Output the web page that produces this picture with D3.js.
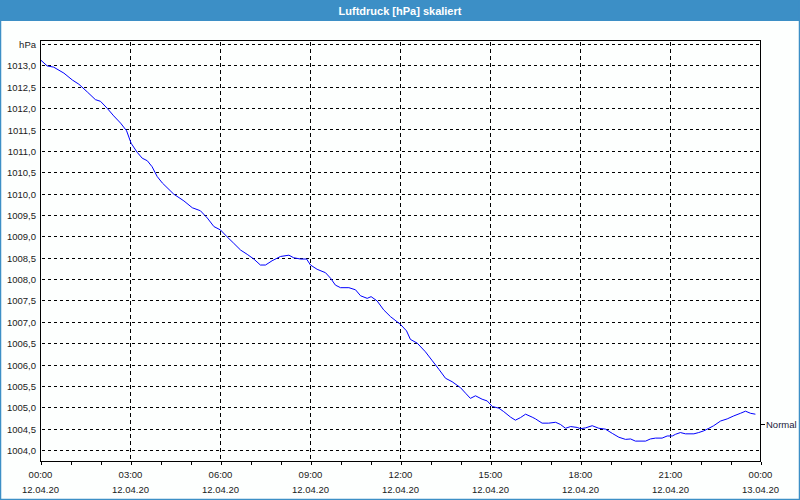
<!DOCTYPE html>
<html>
<head>
<meta charset="utf-8">
<script src="https://cdn.jsdelivr.net/npm/d3@7"></script>
<style>
  html, body { margin: 0; padding: 0; background: #ffffff; }
  svg { display: block; }
  text { font-family: "Liberation Sans", Arial, sans-serif; }
</style>
</head>
<body>
<svg id="chart" width="800" height="500"></svg>
<script>
// ---------- data ----------
const title = "Luftdruck [hPa] skaliert";
const unitLabel = "hPa";
const refLabel = "Normal";
const refValue = 1004.61;

// hours since 12.04.20 00:00
const hours = [
  0, 0.22, 0.44, 0.78, 1.06, 1.28, 1.56, 1.83, 2.0, 2.22, 2.44, 2.67, 2.87, 3.02, 3.22, 3.39, 3.56, 3.72, 3.89, 4.06,
  4.44, 4.78, 5.06, 5.33, 5.56, 5.78, 6.0, 6.22, 6.44, 6.67, 6.89, 7.11, 7.33, 7.5, 7.72, 8.0, 8.28, 8.44, 8.67, 8.87,
  9.0, 9.22, 9.5, 9.67, 9.83, 10.0, 10.28, 10.5, 10.67, 10.89, 11.02, 11.22, 11.44, 11.67, 12.0, 12.2, 12.33, 12.56, 12.83, 13.06,
  13.28, 13.5, 13.72, 14.0, 14.17, 14.33, 14.5, 14.72, 14.89, 15.06, 15.28, 15.44, 15.67, 15.83, 16.0, 16.17, 16.39, 16.5, 16.72, 16.94,
  17.17, 17.33, 17.5, 17.67, 17.89, 18.0, 18.17, 18.39, 18.61, 18.83, 19.06, 19.28, 19.5, 19.67, 19.83, 20.17, 20.33, 20.5, 20.72, 20.89,
  21.06, 21.17, 21.33, 21.5, 21.78, 21.94, 22.11, 22.28, 22.44, 22.67, 22.89, 23.11, 23.33, 23.5, 23.67, 23.83
];
const pressure = [
  1013.14, 1013.00, 1012.97, 1012.83, 1012.67, 1012.57, 1012.39, 1012.21, 1012.17, 1012.01, 1011.83, 1011.66, 1011.48, 1011.19, 1010.98, 1010.84, 1010.78, 1010.64, 1010.41, 1010.26,
  1010.00, 1009.84, 1009.68, 1009.61, 1009.44, 1009.24, 1009.16, 1009.00, 1008.85, 1008.69, 1008.59, 1008.48, 1008.34, 1008.34, 1008.44, 1008.54, 1008.57, 1008.51, 1008.48, 1008.48,
  1008.34, 1008.24, 1008.16, 1008.03, 1007.87, 1007.81, 1007.81, 1007.76, 1007.62, 1007.56, 1007.60, 1007.50, 1007.29, 1007.13, 1006.95, 1006.80, 1006.60, 1006.51, 1006.31, 1006.10,
  1005.90, 1005.69, 1005.61, 1005.47, 1005.34, 1005.22, 1005.28, 1005.20, 1005.16, 1005.03, 1004.99, 1004.91, 1004.78, 1004.71, 1004.77, 1004.85, 1004.78, 1004.74, 1004.64, 1004.64,
  1004.66, 1004.61, 1004.52, 1004.56, 1004.54, 1004.51, 1004.53, 1004.58, 1004.52, 1004.50, 1004.40, 1004.31, 1004.26, 1004.27, 1004.22, 1004.22, 1004.27, 1004.29, 1004.29, 1004.34,
  1004.34, 1004.38, 1004.42, 1004.39, 1004.39, 1004.42, 1004.46, 1004.52, 1004.58, 1004.69, 1004.74, 1004.81, 1004.87, 1004.92, 1004.87, 1004.85
];

const yTickValues = [1004, 1004.5, 1005, 1005.5, 1006, 1006.5, 1007, 1007.5, 1008, 1008.5, 1009, 1009.5, 1010, 1010.5, 1011, 1011.5, 1012, 1012.5, 1013];
const yTickLabels = ["1004,0","1004,5","1005,0","1005,5","1006,0","1006,5","1007,0","1007,5","1008,0","1008,5","1009,0","1009,5","1010,0","1010,5","1011,0","1011,5","1012,0","1012,5","1013,0"];
const xMajorHours = [0, 3, 6, 9, 12, 15, 18, 21, 24];
const xTimeLabels = ["00:00","03:00","06:00","09:00","12:00","15:00","18:00","21:00","00:00"];
const xDateLabels = ["12.04.20","12.04.20","12.04.20","12.04.20","12.04.20","12.04.20","12.04.20","12.04.20","13.04.20"];
const xMinorHours = d3.range(0, 25, 1);

// ---------- layout ----------
const W = 800, H = 500;
const plot = { left: 40, top: 40, right: 760, bottom: 461 };
const blue = "#3c8fc6";

const svg = d3.select("#chart");

// window background + border
svg.append("rect").attr("x", 0).attr("y", 0).attr("width", W).attr("height", H).attr("fill", "#fdfffe");
svg.append("rect").attr("x", 0).attr("y", 0).attr("width", W).attr("height", 21).attr("fill", blue);
svg.append("rect").attr("x", 0.5).attr("y", 0.5).attr("width", W - 1).attr("height", H - 1)
  .attr("fill", "none").attr("stroke", blue).attr("stroke-width", 1.5);
svg.append("text").attr("x", W / 2).attr("y", 14.5).attr("text-anchor", "middle")
  .attr("fill", "#ffffff").attr("font-size", "11px").attr("font-weight", "bold").text(title);

const x = d3.scaleLinear().domain([0, 24]).range([plot.left, plot.right]);
const y = d3.scaleLinear().domain([1004, 1013.5]).range([450, 44]);

const g = svg.append("g").attr("transform", "translate(0.5,0.5)");

// horizontal grid
const gridVals = yTickValues.concat([1013.5]);
g.append("g").selectAll("line").data(gridVals).join("line")
  .attr("x1", plot.left + 1).attr("x2", plot.right)
  .attr("y1", d => y(d)).attr("y2", d => y(d))
  .attr("stroke", "#000").attr("stroke-width", 1).attr("stroke-dasharray", "3,3")
  .attr("shape-rendering", "crispEdges");

// vertical grid
g.append("g").selectAll("line").data(xMajorHours.slice(1, -1)).join("line")
  .attr("x1", d => x(d)).attr("x2", d => x(d))
  .attr("y1", plot.top + 1).attr("y2", plot.bottom)
  .attr("stroke", "#000").attr("stroke-width", 1).attr("stroke-dasharray", "4,3")
  .attr("shape-rendering", "crispEdges");

// data line
const line = d3.line().x((d, i) => x(hours[i])).y(d => y(d));
g.append("path").datum(pressure).attr("d", line)
  .attr("fill", "none").attr("stroke", "#0000ff").attr("stroke-width", 1);

// frame
g.append("rect").attr("x", plot.left).attr("y", plot.top)
  .attr("width", plot.right - plot.left).attr("height", plot.bottom - plot.top)
  .attr("fill", "none").attr("stroke", "#000").attr("stroke-width", 1).attr("shape-rendering", "crispEdges");

// bottom axis ticks
const xAxis = d3.axisBottom(x).tickValues(xMinorHours).tickSize(3).tickFormat("");
const xa = g.append("g").attr("transform", `translate(0,${plot.bottom})`).call(xAxis);
xa.select(".domain").remove();
xa.selectAll("line").attr("stroke", "#000").attr("shape-rendering", "crispEdges");

// x labels
const xl = svg.append("g");
xl.selectAll("text.t").data(xMajorHours).join("text").attr("class", "t")
  .attr("x", d => x(d) + 0.5).attr("y", 478).attr("text-anchor", "middle")
  .attr("font-size", "9.5px").attr("fill", "#1a1a1a").text((d, i) => xTimeLabels[i]);
xl.selectAll("text.d").data(xMajorHours).join("text").attr("class", "d")
  .attr("x", d => x(d) + 0.5).attr("y", 493).attr("text-anchor", "middle")
  .attr("font-size", "9.5px").attr("fill", "#1a1a1a").text((d, i) => xDateLabels[i]);

// y labels
const yAxis = d3.axisLeft(y).tickValues(yTickValues).tickSize(0).tickPadding(4)
  .tickFormat((d, i) => yTickLabels[i]);
const ya = svg.append("g").attr("transform", `translate(${plot.left},0.5)`).call(yAxis);
ya.select(".domain").remove();
ya.selectAll("text").attr("font-size", "9.5px").attr("fill", "#1a1a1a")
  .attr("font-family", "'Liberation Sans', Arial, sans-serif");
svg.append("text").attr("x", plot.left - 4).attr("y", y(1013.5) + 4)
  .attr("text-anchor", "end").attr("font-size", "9.5px").attr("fill", "#1a1a1a").text(unitLabel);

// reference label on right
g.append("line").attr("x1", plot.right).attr("x2", plot.right + 4)
  .attr("y1", Math.round(y(refValue))).attr("y2", Math.round(y(refValue)))
  .attr("stroke", "#000").attr("shape-rendering", "crispEdges");
svg.append("text").attr("x", plot.right + 6).attr("y", y(refValue) + 4)
  .attr("font-size", "9.5px").attr("fill", "#1a1a3a").text(refLabel);
</script>
</body>
</html>
